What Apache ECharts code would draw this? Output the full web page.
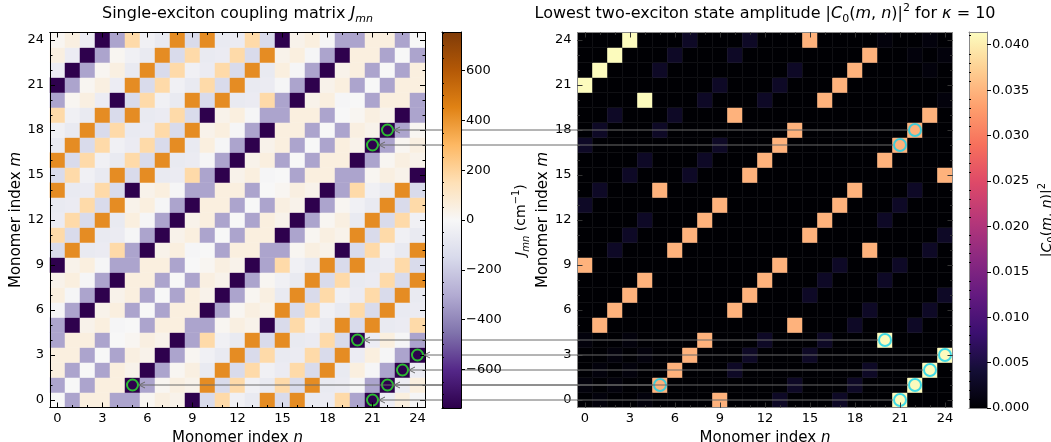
<!DOCTYPE html>
<html><head><meta charset="utf-8">
<script src="https://cdn.jsdelivr.net/npm/echarts@6/dist/echarts.min.js"></script>
<style>html,body{margin:0;padding:0;background:#fff}#c{width:1051px;height:442px}</style>
</head><body><div id="c"></div>
<script>
// ---------------- data ----------------
const monomerLabels = ['0','1','2','3','4','5','6','7','8','9','10','11','12','13','14','15','16','17','18','19','20','21','22','23','24'];
const tickStep = 3;
// J[m][n] in cm^-1, row m = monomer index m (0 at bottom)
const J = [
[0,-320,55,55,-320,-320,15,50,30,-750,-145,175,-35,-70,425,-145,425,-70,-60,175,-320,-750,-55,55,-10],
[-320,0,-320,55,55,-750,-320,15,50,30,425,-145,175,-35,-70,175,-145,425,-70,-60,-10,-320,-750,-55,55],
[55,-320,0,-320,55,30,-750,-320,15,50,-70,425,-145,175,-35,-60,175,-145,425,-70,55,-10,-320,-750,-55],
[55,55,-320,0,-320,50,30,-750,-320,15,-35,-70,425,-145,175,-70,-60,175,-145,425,-55,55,-10,-320,-750],
[-320,55,55,-320,0,15,50,30,-750,-320,175,-35,-70,425,-145,425,-70,-60,175,-145,-750,-55,55,-10,-320],
[-320,-750,30,55,-10,0,-320,55,55,-320,-320,15,50,30,-750,-145,175,-35,-70,425,-145,425,-70,-60,175],
[-10,-320,-750,30,55,-320,0,-320,55,55,-750,-320,15,50,30,425,-145,175,-35,-70,175,-145,425,-70,-60],
[55,-10,-320,-750,30,55,-320,0,-320,55,30,-750,-320,15,50,-70,425,-145,175,-35,-60,175,-145,425,-70],
[30,55,-10,-320,-750,55,55,-320,0,-320,50,30,-750,-320,15,-35,-70,425,-145,175,-70,-60,175,-145,425],
[-750,30,55,-10,-320,-320,55,55,-320,0,15,50,30,-750,-320,175,-35,-70,425,-145,425,-70,-60,175,-145],
[-145,425,-70,-60,175,-320,-750,30,55,-10,0,-320,55,55,-320,-320,15,50,30,-750,-145,175,-35,-70,425],
[175,-145,425,-70,-60,-10,-320,-750,30,55,-320,0,-320,55,55,-750,-320,15,50,30,425,-145,175,-35,-70],
[-60,175,-145,425,-70,55,-10,-320,-750,30,55,-320,0,-320,55,30,-750,-320,15,50,-70,425,-145,175,-35],
[-70,-60,175,-145,425,30,55,-10,-320,-750,55,55,-320,0,-320,50,30,-750,-320,15,-35,-70,425,-145,175],
[425,-70,-60,175,-145,-750,30,55,-10,-320,-320,55,55,-320,0,15,50,30,-750,-320,175,-35,-70,425,-145],
[-145,175,-35,-70,425,-145,425,-70,-60,175,-320,-750,30,55,-10,0,-320,55,55,-320,-320,15,50,30,-750],
[425,-145,175,-35,-70,175,-145,425,-70,-60,-10,-320,-750,30,55,-320,0,-320,55,55,-750,-320,15,50,30],
[-70,425,-145,175,-35,-60,175,-145,425,-70,55,-10,-320,-750,30,55,-320,0,-320,55,30,-750,-320,15,50],
[-35,-70,425,-145,175,-70,-60,175,-145,425,30,55,-10,-320,-750,55,55,-320,0,-320,50,30,-750,-320,15],
[175,-35,-70,425,-145,425,-70,-60,175,-145,-750,30,55,-10,-320,-320,55,55,-320,0,15,50,30,-750,-320],
[-320,15,50,-55,-750,-145,175,-35,-70,425,-145,425,-70,-60,175,-320,-750,30,55,-10,0,-320,55,55,-320],
[-750,-320,15,50,-55,425,-145,175,-35,-70,175,-145,425,-70,-60,-10,-320,-750,30,55,-320,0,-320,55,55],
[-55,-750,-320,15,50,-70,425,-145,175,-35,-60,175,-145,425,-70,55,-10,-320,-750,30,55,-320,0,-320,55],
[50,-55,-750,-320,15,-35,-70,425,-145,175,-70,-60,175,-145,425,30,55,-10,-320,-750,55,55,-320,0,-320],
[15,50,-55,-750,-320,175,-35,-70,425,-145,425,-70,-60,175,-145,-750,30,55,-10,-320,-320,55,55,-320,0]
];
// |C0(m,n)|^2, row m
const C0sq = [
[0,0.0007,0,0,0.0007,0,0,0,0,0.0348,0,0,0,0.0028,0,0,0,0.0028,0,0,0,0.0412,0,0,0],
[0.0007,0,0.0007,0,0,0.0348,0,0,0,0,0,0,0,0,0.0028,0,0,0,0.0028,0,0,0,0.0412,0,0],
[0,0.0007,0,0.0007,0,0,0.0348,0,0,0,0.0028,0,0,0,0,0,0,0,0,0.0028,0,0,0,0.0412,0],
[0,0,0.0007,0,0.0007,0,0,0.0348,0,0,0,0.0028,0,0,0,0.0028,0,0,0,0,0,0,0,0,0.0412],
[0.0007,0,0,0.0007,0,0,0,0,0.0348,0,0,0,0.0028,0,0,0,0.0028,0,0,0,0.0412,0,0,0,0],
[0,0.0348,0,0,0,0,0,0,0,0,0,0,0,0,0.0348,0,0,0,0.0028,0,0,0,0.0028,0,0],
[0,0,0.0348,0,0,0,0,0,0,0,0.0348,0,0,0,0,0,0,0,0,0.0028,0,0,0,0.0028,0],
[0,0,0,0.0348,0,0,0,0,0,0,0,0.0348,0,0,0,0.0028,0,0,0,0,0,0,0,0,0.0028],
[0,0,0,0,0.0348,0,0,0,0,0,0,0,0.0348,0,0,0,0.0028,0,0,0,0.0028,0,0,0,0],
[0.0348,0,0,0,0,0,0,0,0,0,0,0,0,0.0348,0,0,0,0.0028,0,0,0,0.0028,0,0,0],
[0,0,0.0028,0,0,0,0.0348,0,0,0,0,0,0,0,0,0,0,0,0,0.0348,0,0,0,0.0028,0],
[0,0,0,0.0028,0,0,0,0.0348,0,0,0,0,0,0,0,0.0348,0,0,0,0,0,0,0,0,0.0028],
[0,0,0,0,0.0028,0,0,0,0.0348,0,0,0,0,0,0,0,0.0348,0,0,0,0.0028,0,0,0,0],
[0.0028,0,0,0,0,0,0,0,0,0.0348,0,0,0,0,0,0,0,0.0348,0,0,0,0.0028,0,0,0],
[0,0.0028,0,0,0,0.0348,0,0,0,0,0,0,0,0,0,0,0,0,0.0348,0,0,0,0.0028,0,0],
[0,0,0,0.0028,0,0,0,0.0028,0,0,0,0.0348,0,0,0,0,0,0,0,0,0,0,0,0,0.0348],
[0,0,0,0,0.0028,0,0,0,0.0028,0,0,0,0.0348,0,0,0,0,0,0,0,0.0348,0,0,0,0],
[0.0028,0,0,0,0,0,0,0,0,0.0028,0,0,0,0.0348,0,0,0,0,0,0,0,0.0348,0,0,0],
[0,0.0028,0,0,0,0.0028,0,0,0,0,0,0,0,0,0.0348,0,0,0,0,0,0,0,0.0348,0,0],
[0,0,0.0028,0,0,0,0.0028,0,0,0,0.0348,0,0,0,0,0,0,0,0,0,0,0,0,0.0348,0],
[0,0,0,0,0.0412,0,0,0,0.0028,0,0,0,0.0028,0,0,0,0.0348,0,0,0,0,0,0,0,0.0007],
[0.0412,0,0,0,0,0,0,0,0,0.0028,0,0,0,0.0028,0,0,0,0.0348,0,0,0,0,0,0,0],
[0,0.0412,0,0,0,0.0028,0,0,0,0,0,0,0,0,0.0028,0,0,0,0.0348,0,0,0,0,0.0007,0],
[0,0,0.0412,0,0,0,0.0028,0,0,0,0.0028,0,0,0,0,0,0,0,0,0.0348,0,0,0.0007,0,0.0007],
[0,0,0,0.0412,0,0,0,0.0028,0,0,0,0.0028,0,0,0,0.0348,0,0,0,0,0.0007,0,0,0.0007,0]
];
// marked pairs [n, m]
const markedPairs = [[22,18],[21,17],[20,4],[24,3],[23,2],[22,1],[5,1],[21,0]];
const jRange = [-755, 755];
const cRange = [0, 0.0414];
const jTicks = [-600,-400,-200,0,200,400,600];
const jMinorTicks = [-750,-700,-650,-550,-500,-450,-350,-300,-250,-150,-100,-50,50,100,150,250,300,350,450,500,550,650,700,750];
const cTicks = [0,0.005,0.01,0.015,0.02,0.025,0.03,0.035,0.04];
const cMinorTicks = [0.001,0.002,0.003,0.004,0.006,0.007,0.008,0.009,0.011,0.012,0.013,0.014,0.016,0.017,0.018,0.019,0.021,0.022,0.023,0.024,0.026,0.027,0.028,0.029,0.031,0.032,0.033,0.034,0.036,0.037,0.038,0.039,0.041];
// colormaps
const puOr_r = ['#2d004b','#542788','#8073ac','#b2abd2','#d8daeb','#f7f7f7','#fee0b6','#fdb863','#e08214','#b35806','#7f3b08'];
const magma = ['#000004','#140e36','#3b0f70','#641a80','#8c2981','#b73779','#de4968','#f7705c','#fe9f6d','#fecf92','#fcfdbf'];

// ---------------- chart ----------------
const FONT = 'DejaVu Sans';
const chart = echarts.init(document.getElementById('c'), null, {renderer: 'canvas'});

function makeRich(fs, sfs, lh, slh) {
  const base = {fontFamily: FONT, color: '#000', fontWeight: 'normal'};
  return {
    t: Object.assign({fontSize: fs, lineHeight: lh}, base),
    i: Object.assign({fontSize: fs, lineHeight: lh, fontStyle: 'italic'}, base),
    s: Object.assign({fontSize: sfs, lineHeight: slh, fontStyle: 'italic', verticalAlign: 'bottom'}, base),
    s0: Object.assign({fontSize: sfs, lineHeight: slh, verticalAlign: 'bottom'}, base),
    p: Object.assign({fontSize: sfs, lineHeight: slh, verticalAlign: 'top'}, base)
  };
}
const richTitle = makeRich(16, 11, 22, 10);
const richLabel = makeRich(15, 10.5, 22, 10);
const richSmall = makeRich(14, 10, 20, 9);

function isMajor(i) { return i % tickStep === 0; }

function heatAxes(dim, gridIndex, lineColor, tickColor, name) {
  const sides = dim === 'x' ? ['bottom', 'top'] : ['left', 'right'];
  const out = [];
  sides.forEach((pos, si) => {
    [true, false].forEach(major => {
      const a = {
        type: 'category', data: monomerLabels, gridIndex, position: pos, z: 6,
        boundaryGap: true,
        axisLine: {show: true, onZero: false, lineStyle: {color: lineColor, width: 1}},
        axisTick: {show: true, inside: true, alignWithLabel: true, length: major ? 5 : 2.5,
                   interval: major ? isMajor : 0, lineStyle: {color: tickColor, width: 1}},
        axisLabel: {show: major && si === 0, interval: isMajor, margin: dim === 'x' ? 5 : 6,
                    color: '#000', fontSize: 13, fontFamily: FONT},
        splitLine: {show: false},
        axisPointer: {show: false}
      };
      if (major && si === 0) {
        a.name = name;
        a.nameLocation = 'middle';
        a.nameGap = dim === 'x' ? 17 : 17;
        if (dim === 'y') a.nameRotate = 90;
        a.nameTextStyle = {rich: richLabel, fontSize: 15, fontFamily: FONT, color: '#000'};
      }
      out.push(a);
    });
  });
  return out;
}

function cbXAxes(gridIndex, color) {
  return ['bottom', 'top'].map(pos => ({
    type: 'value', gridIndex, position: pos, min: 0, max: 1, z: 50,
    axisLine: {show: true, onZero: false, lineStyle: {color, width: 1}},
    axisTick: {show: false}, axisLabel: {show: false}, splitLine: {show: false}
  }));
}
function cbYAxes(gridIndex, range, ticks, minor, fmt, name, color) {
  return [
    {type: 'value', gridIndex, position: 'right', min: range[0], max: range[1], z: 50,
     axisLine: {show: true, onZero: false, lineStyle: {color, width: 1}},
     axisTick: {show: true, inside: false, length: 4, customValues: ticks, lineStyle: {color: '#000'}},
     axisLabel: {show: true, customValues: ticks, formatter: fmt, margin: 5, color: '#000', fontSize: 13, fontFamily: FONT},
     splitLine: {show: false},
     name, nameLocation: 'middle', nameRotate: 90, nameGap: 50,
     nameTextStyle: {rich: richSmall, fontSize: 14, fontFamily: FONT, color: '#000'}},
    {type: 'value', gridIndex, position: 'right', min: range[0], max: range[1], z: 50,
     axisLine: {show: false},
     axisTick: {show: true, inside: false, length: 2, customValues: minor, lineStyle: {color: '#000'}},
     axisLabel: {show: false}, splitLine: {show: false}},
    {type: 'value', gridIndex, position: 'left', min: range[0], max: range[1], z: 50,
     axisLine: {show: true, onZero: false, lineStyle: {color, width: 1}},
     axisTick: {show: false}, axisLabel: {show: false}, splitLine: {show: false}}
  ];
}

const jData = [];
const cData = [];
for (let m = 0; m < J.length; m++) {
  for (let n = 0; n < J[m].length; n++) {
    jData.push([n, m, J[m][n]]);
    cData.push([n, m, C0sq[m][n]]);
  }
}

const nameN = '{t|Monomer index }{i|n}';
const nameM = '{t|Monomer index }{i|m}';
const gridBase = {outerBoundsMode: 'none', containLabel: false};

const option = {
  animation: false,
  backgroundColor: '#fff',
  title: [
    {text: '{t|Single-exciton coupling matrix }{i|J}{s|mn}', left: 237.5, top: 3, textAlign: 'center', padding: 0,
     textStyle: {rich: richTitle, fontSize: 16, fontWeight: 'normal', fontFamily: FONT, color: '#000'}},
    {text: '{t|Lowest two-exciton state amplitude |}{i|C}{s0|0}{t|(}{i|m}{t|, }{i|n}{t|)|}{p|2}{t| for }{i|κ}{t| = 10}', left: 765, top: 3, textAlign: 'center', padding: 0,
     textStyle: {rich: richTitle, fontSize: 16, fontWeight: 'normal', fontFamily: FONT, color: '#000'}}
  ],
  grid: [
    Object.assign({left: 50, top: 32.5, width: 375, height: 375}, gridBase),
    Object.assign({left: 577.5, top: 32.5, width: 375, height: 375}, gridBase),
    Object.assign({left: 442, top: 32, width: 19, height: 376}, gridBase),
    Object.assign({left: 969, top: 32, width: 18, height: 376}, gridBase)
  ],
  xAxis: [].concat(
    heatAxes('x', 0, '#000', '#000', nameN),
    heatAxes('x', 1, '#888', '#333', nameN),
    cbXAxes(2, '#000'),
    cbXAxes(3, '#888')
  ),
  yAxis: [].concat(
    heatAxes('y', 0, '#000', '#000', nameM),
    heatAxes('y', 1, '#888', '#333', nameM),
    cbYAxes(2, jRange, jTicks, jMinorTicks, v => (v < 0 ? '\u2212' : '') + Math.abs(v),
            '{i|J}{s|mn}{t| (cm}{p|\u22121}{t|)}', '#000'),
    cbYAxes(3, cRange, cTicks, cMinorTicks, v => v.toFixed(3),
            '{t||}{i|C}{s0|0}{t|(}{i|m}{t|, }{i|n}{t|)|}{p|2}', '#888')
  ),
  visualMap: [
    {type: 'continuous', show: false, seriesIndex: 0, min: jRange[0], max: jRange[1], inRange: {color: puOr_r}},
    {type: 'continuous', show: false, seriesIndex: 1, min: cRange[0], max: cRange[1], inRange: {color: magma}}
  ],
  series: [
    {type: 'heatmap', xAxisIndex: 0, yAxisIndex: 0, data: jData, progressive: 0, emphasis: {disabled: true}},
    {type: 'heatmap', xAxisIndex: 4, yAxisIndex: 4, data: cData, progressive: 0, emphasis: {disabled: true}},
    {type: 'scatter', xAxisIndex: 0, yAxisIndex: 0, data: markedPairs, symbol: 'circle', symbolSize: 11, z: 4,
     itemStyle: {color: 'rgba(0,0,0,0)', borderColor: '#2be82b', borderWidth: 2}, emphasis: {disabled: true}},
    {type: 'scatter', xAxisIndex: 4, yAxisIndex: 4, data: markedPairs, symbol: 'circle', symbolSize: 12, z: 4,
     itemStyle: {color: 'rgba(0,0,0,0)', borderColor: '#12d2ef', borderWidth: 2}, emphasis: {disabled: true}}
  ]
};
chart.setOption(option);

// ---- graphics derived from the axes: colorbar gradients and connector arrows ----
function gradientRect(xIdx, yIdx, range, colors) {
  const p0 = chart.convertToPixel({xAxisIndex: xIdx, yAxisIndex: yIdx}, [0, range[1]]);
  const p1 = chart.convertToPixel({xAxisIndex: xIdx, yAxisIndex: yIdx}, [1, range[0]]);
  const stops = colors.map((c, i) => ({offset: i / (colors.length - 1), color: c}));
  return {type: 'rect', z: 40, silent: true,
    shape: {x: p0[0], y: p0[1], width: p1[0] - p0[0], height: p1[1] - p0[1]},
    style: {fill: new echarts.graphic.LinearGradient(0, 1, 0, 0, stops)}};
}
const graphics = [gradientRect(8, 8, jRange, puOr_r), gradientRect(10, 11, cRange, magma)];
const rR = 7, rL = 6.5, head = 6, headW = 3;
markedPairs.forEach(p => {
  const L = chart.convertToPixel({xAxisIndex: 0, yAxisIndex: 0}, p);
  const R = chart.convertToPixel({xAxisIndex: 4, yAxisIndex: 4}, p);
  const xs = R[0] - rR, xe = L[0] + rL, y = L[1];
  graphics.push({type: 'line', z: 30, silent: true,
    shape: {x1: xs, y1: y, x2: xe, y2: y}, style: {stroke: '#6a6a6a', lineWidth: 1}});
  graphics.push({type: 'polyline', z: 30, silent: true,
    shape: {points: [[xe + head, y - headW], [xe, y], [xe + head, y + headW]]},
    style: {stroke: '#6a6a6a', lineWidth: 1, fill: null}});
});
chart.setOption({graphic: graphics});
</script>
</body></html>
